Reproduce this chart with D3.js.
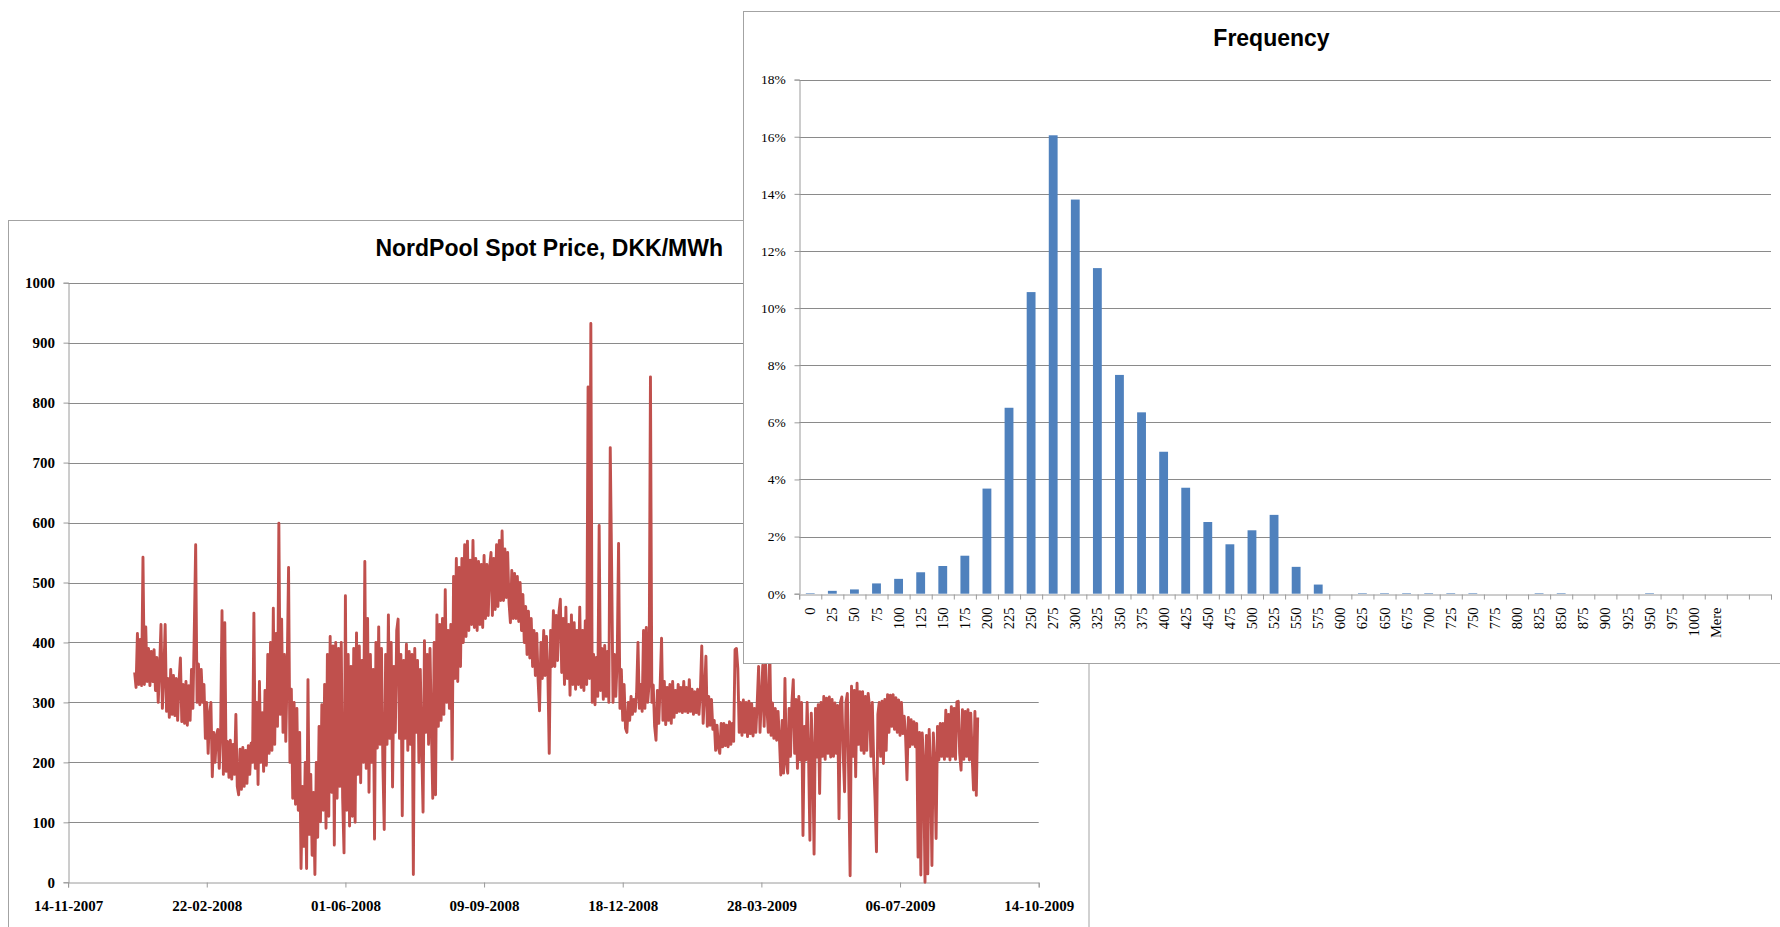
<!DOCTYPE html>
<html>
<head>
<meta charset="utf-8">
<script src="https://cdn.jsdelivr.net/npm/d3@7"></script>
<style>
  html, body { margin: 0; padding: 0; background: #fff; overflow: hidden; }
  svg { display: block; }
</style>
</head>
<body>
<svg id="chart" width="1780" height="927"></svg>
<script>
// NordPool spot price, DKK/MWh: one sample per day (alternating daily high / low), one array per month
const jan2008 = [350,325,415,330,405,328,542,330,426,335,390,328,385,335,388,320,375,300,360,430,290,345,430,285,340,275,355,280,345,278,340];
const feb2008 = [270,335,374,268,330,265,335,262,328,270,355,290,420,563,300,364,296,355,300,330,240,300,215,280,300,176,250,200,245];
const mar2008 = [255,190,250,453,180,433,185,235,175,237,172,230,180,280,160,146,222,155,225,160,220,165,228,180,232,200,449,190,300,163,335];
const apr2008 = [200,283,185,320,195,380,215,400,220,457,230,415,260,599,280,439,250,380,235,355,525,200,322,140,300,130,290,120,250,23];
const may2008 = [160,60,200,23,338,80,180,45,150,13,200,75,260,101,296,120,330,90,380,110,410,150,394,62,400,140,390,160,400,140,49];
const jun2008 = [478,120,380,94,360,110,390,100,416,180,394,166,370,200,535,190,440,150,380,200,355,72,400,224,426,230,390,200,88,380];
const jul2008 = [230,446,240,400,159,360,250,420,439,240,380,111,370,240,397,220,385,230,380,13,390,250,370,200,355,230,117,403,250,380,230];
const aug2008 = [390,260,140,400,146,446,260,430,270,440,280,488,300,420,290,430,205,510,340,540,335,525,360,540,400,563,410,569,420,537,430];
const sep2008 = [570,425,540,420,535,430,530,425,545,440,530,445,525,550,445,540,455,563,460,570,470,586,470,556,475,550,466,433,520,440];
const oct2008 = [515,440,510,435,500,420,480,400,460,380,452,374,440,360,420,345,415,335,286,400,340,420,345,410,350,215,420,360,453,360,445];
const nov2008 = [370,450,472,350,440,330,459,340,430,312,446,330,433,322,420,330,459,325,420,320,436,330,826,340,932,300,380,296,375,310];
const dec2008 = [595,320,390,305,395,310,385,300,725,527,300,380,310,370,565,290,355,270,330,257,250,300,270,310,280,305,285,315,400,290,330];
const jan2009 = [285,420,290,425,300,330,843,300,329,260,237,320,265,330,407,270,335,263,325,270,330,265,335,275,320,283,330,285,325,283,335];
const feb2009 = [285,325,283,338,285,322,280,318,283,322,280,320,394,265,315,377,260,310,262,305,255,270,220,262,225,215,265,226];
const mar2009 = [265,228,262,226,268,230,265,235,388,390,357,250,300,245,304,250,300,243,302,248,298,244,290,250,300,360,250,305,362,260,365];
const apr2009 = [290,250,395,245,299,240,290,237,285,240,179,270,182,340,200,182,290,210,300,338,215,305,190,310,204,300,78,260,204,300];
const may2009 = [215,70,282,210,47,290,209,296,148,300,210,310,205,307,215,309,209,305,210,299,215,295,106,300,309,215,151,300,315,171,11];
const jun2009 = [327,210,320,176,332,230,318,220,318,215,310,220,315,293,210,300,200,137,51,280,300,210,302,198,305,220,313,250,312,260];
const jul2009 = [313,255,308,250,304,245,300,248,277,243,171,275,226,271,230,268,226,265,42,250,12,249,200,0,245,14,255,190,28,249,200];
const aug2009 = [73,260,204,265,210,265,205,287,210,280,204,293,210,290,205,301,302,215,187,288,205,285,210,288,204,282,210,154,285,145,275];

const monthStarts = ["2008-01-01","2008-02-01","2008-03-01","2008-04-01","2008-05-01","2008-06-01","2008-07-01","2008-08-01","2008-09-01","2008-10-01",
                     "2008-11-01","2008-12-01","2009-01-01","2009-02-01","2009-03-01","2009-04-01","2009-05-01","2009-06-01","2009-07-01","2009-08-01"];
const monthValues = [jan2008,feb2008,mar2008,apr2008,may2008,jun2008,jul2008,aug2008,sep2008,oct2008,
                     nov2008,dec2008,jan2009,feb2009,mar2009,apr2009,may2009,jun2009,jul2009,aug2009];

// Price axis ticks
const priceTicks = [0,100,200,300,400,500,600,700,800,900,1000];
const dateTicks = ["2007-11-14","2008-02-22","2008-06-01","2008-09-09","2008-12-18","2009-03-28","2009-07-06","2009-10-14"];

// Histogram of spot prices: bin labels and share of hours (%)
const binLabels = ["0","25","50","75","100","125","150","175","200","225","250","275","300","325","350","375","400","425","450","475","500",
                   "525","550","575","600","625","650","675","700","725","750","775","800","825","850","875","900","925","950","975","1000","Mere","",""];
const binShare = [0.02,0.10,0.15,0.36,0.52,0.75,0.97,1.33,3.68,6.51,10.56,16.05,13.80,11.40,7.66,6.35,4.97,3.71,2.51,1.73,2.22,
                  2.76,0.94,0.32,0,0.02,0.02,0.02,0.02,0.02,0.02,0,0,0.02,0.02,0,0,0,0.02,0,0,0,0,0];
const shareTicks = [0,2,4,6,8,10,12,14,16,18];

const svg = d3.select("#chart");
const GRID = "#8a8a8a", AXIS = "#9a9a9a", FRAME = "#a3a3a3";
const labelFont = "'Liberation Serif', 'Times New Roman', serif";
const titleFont = "'Liberation Sans', Arial, sans-serif";

const parseDay = d3.utcParse("%Y-%m-%d");

// ---------- Spot price line chart ----------
const priceSeries = [];
monthStarts.forEach((m, k) => {
  const start = parseDay(m);
  monthValues[k].forEach((v, i) => priceSeries.push({ date: d3.utcDay.offset(start, i), value: v }));
});

const xTime = d3.scaleUtc().domain([parseDay(dateTicks[0]), parseDay(dateTicks[dateTicks.length - 1])]).range([68.1, 1038.7]);
const yPrice = d3.scaleLinear().domain([0, 1000]).range([882.3, 282.7]);

const left = svg.append("g");
left.append("rect").attr("x", 8.5).attr("y", 220.5).attr("width", 1080.5).attr("height", 800)
  .attr("fill", "#fff").attr("stroke", FRAME).attr("stroke-width", 1);

left.append("text").attr("x", 723).attr("y", 256).attr("text-anchor", "end")
  .attr("font-family", titleFont).attr("font-weight", "bold").attr("font-size", 23)
  .attr("fill", "#000").text("NordPool Spot Price, DKK/MWh");

left.append("g").selectAll("line").data(priceTicks.filter(d => d > 0)).join("line")
  .attr("x1", xTime.range()[0]).attr("x2", xTime.range()[1])
  .attr("y1", d => Math.round(yPrice(d)) + 0.5).attr("y2", d => Math.round(yPrice(d)) + 0.5)
  .attr("stroke", GRID).attr("stroke-width", 1);

const yAxisL = left.append("g").attr("transform", "translate(68.5,0)")
  .call(d3.axisLeft(yPrice).tickValues(priceTicks).tickSize(5).tickPadding(8.5).tickFormat(d3.format("d")));
const xAxisL = left.append("g").attr("transform", "translate(0,882.5)")
  .call(d3.axisBottom(xTime).tickValues(dateTicks.map(parseDay)).tickSize(5).tickPadding(13).tickFormat(d3.utcFormat("%d-%m-%Y")));
[yAxisL, xAxisL].forEach(ax => {
  ax.select(".domain").attr("stroke", AXIS);
  ax.selectAll(".tick line").attr("stroke", AXIS);
  ax.selectAll("text").attr("font-family", labelFont).attr("font-weight", "bold").attr("font-size", 15).attr("fill", "#000");
});

left.append("path").datum(priceSeries)
  .attr("fill", "none").attr("stroke", "#C0504D").attr("stroke-width", 2.9)
  .attr("stroke-linejoin", "round").attr("stroke-linecap", "butt")
  .attr("d", d3.line().x(d => xTime(d.date)).y(d => yPrice(d.value)));

// ---------- Frequency histogram ----------
const right = svg.append("g");
right.append("rect").attr("x", 743.5).attr("y", 11.5).attr("width", 1100).attr("height", 652)
  .attr("fill", "#fff").attr("stroke", FRAME).attr("stroke-width", 1);

right.append("text").attr("x", 1271.5).attr("y", 46).attr("text-anchor", "middle")
  .attr("font-family", titleFont).attr("font-weight", "bold").attr("font-size", 23)
  .attr("fill", "#000").text("Frequency");

const xBin = d3.scaleBand().domain(d3.range(binLabels.length)).range([799.2, 1771]).paddingInner(0.6).paddingOuter(0.3);
const xEdge = d3.scaleLinear().domain([0, binLabels.length]).range([799.2, 1771]);
const yShare = d3.scaleLinear().domain([0, 18]).range([593.7, 79.6]);

right.append("g").selectAll("line").data(shareTicks.filter(d => d > 0)).join("line")
  .attr("x1", 799.2).attr("x2", 1771)
  .attr("y1", d => Math.round(yShare(d)) + 0.5).attr("y2", d => Math.round(yShare(d)) + 0.5)
  .attr("stroke", GRID).attr("stroke-width", 1);

right.append("g").selectAll("rect").data(binShare).join("rect")
  .attr("x", (d, i) => xBin(i)).attr("width", xBin.bandwidth())
  .attr("y", d => yShare(d)).attr("height", d => yShare(0) - yShare(d))
  .attr("fill", "#4F81BD");

const yAxisR = right.append("g").attr("transform", "translate(799.5,0)")
  .call(d3.axisLeft(yShare).tickValues(shareTicks).tickSize(5).tickPadding(8.7).tickFormat(d => d + "%"));
const edgeAxis = right.append("g").attr("transform", "translate(0,594.5)")
  .call(d3.axisBottom(xEdge).tickValues(d3.range(binLabels.length + 1)).tickSize(5).tickFormat(""));
const binAxis = right.append("g").attr("transform", "translate(0,594.5)")
  .call(d3.axisBottom(xBin).tickSize(0).tickFormat(i => binLabels[i]));
binAxis.select(".domain").remove();
binAxis.selectAll("text")
  .attr("transform", "rotate(-90)").attr("text-anchor", "end")
  .attr("x", -13).attr("y", 0).attr("dy", "0.35em");
[yAxisR, edgeAxis].forEach(ax => {
  ax.select(".domain").attr("stroke", AXIS);
  ax.selectAll(".tick line").attr("stroke", AXIS);
});
yAxisR.selectAll("text").attr("font-family", labelFont).attr("font-size", 13.5).attr("fill", "#000");
binAxis.selectAll("text").attr("font-family", labelFont).attr("font-size", 14.5).attr("fill", "#000");
</script>
</body>
</html>
